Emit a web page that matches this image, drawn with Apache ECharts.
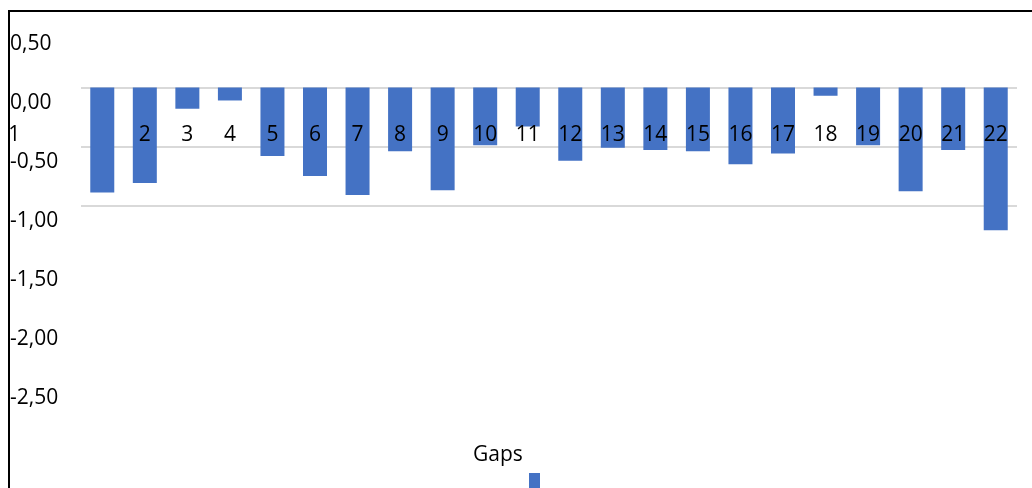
<!DOCTYPE html>
<html>
<head>
<meta charset="utf-8">
<script src="https://cdn.jsdelivr.net/npm/echarts@6/dist/echarts.min.js"></script>
<style>
  html, body { margin: 0; padding: 0; background: #fff; }
  #chart { width: 1032px; height: 488px; }
</style>
</head>
<body>
<div id="chart"></div>
<script>
// Per-period gap values
const categories = ['1','2','3','4','5','6','7','8','9','10','11','12','13','14','15','16','17','18','19','20','21','22'];
const gaps = [-0.89, -0.81, -0.18, -0.11, -0.58, -0.75, -0.91, -0.54, -0.87, -0.49, -0.33,
              -0.62, -0.51, -0.53, -0.54, -0.65, -0.56, -0.07, -0.49, -0.88, -0.53, -1.21];
const seriesName = 'Gaps';
const gridLevels = [0, -0.5, -1.0];

const FONT = 'Open Sans';
const FS = 21;
const chart = echarts.init(document.getElementById('chart'), null, { renderer: 'canvas' });

const fmt = v => v.toFixed(2).replace('.', ',');

chart.setOption({
  animation: false,
  backgroundColor: '#fff',
  textStyle: { fontFamily: FONT },
  graphic: [{
    type: 'rect',
    shape: { x: 9, y: 11, width: 1200, height: 700 },
    style: { fill: 'none', stroke: '#000', lineWidth: 2 },
    silent: true
  }],
  title: {
    text: seriesName,
    left: 473, top: 445, padding: 0,
    textStyle: { fontFamily: FONT, fontSize: FS, fontWeight: 'normal', color: '#000' }
  },
  legend: {
    data: [seriesName],
    left: 529, top: 473, padding: 0,
    itemWidth: 11, itemHeight: 15, itemGap: 0,
    icon: 'rect',
    formatter: () => '',
    textStyle: { fontSize: 1 }
  },
  grid: { left: 81, right: 15, top: 28.5, bottom: 105.5, containLabel: false },
  xAxis: {
    type: 'category',
    data: categories,
    position: 'bottom',
    offset: -295,
    z: 10,
    axisLine: { show: false, onZero: false },
    axisTick: { show: false },
    splitLine: { show: false },
    axisLabel: {
      interval: 0,
      margin: 37,
      color: '#000',
      fontFamily: FONT,
      fontSize: FS,
      formatter: (v, i) => i === 0 ? '{first|' + v + '}' : v,
      rich: { first: { padding: [0, 176, 0, 0], fontFamily: FONT, fontSize: FS, color: '#000' } }
    }
  },
  yAxis: {
    type: 'value',
    min: -2.5, max: 0.5, interval: 0.5,
    axisLine: { show: false },
    axisTick: { show: false },
    splitLine: { show: false },
    axisLabel: {
      align: 'left',
      verticalAlign: 'top',
      lineHeight: 31,
      margin: 71,
      color: '#000',
      fontFamily: FONT,
      fontSize: FS,
      formatter: fmt
    }
  },
  series: [{
    name: seriesName,
    type: 'bar',
    data: gaps,
    barWidth: 24,
    itemStyle: { color: '#4472C4' },
    markLine: {
      z: 1,
      silent: true,
      symbol: ['none', 'none'],
      label: { show: false },
      lineStyle: { color: '#d9d9d9', width: 2, type: 'solid' },
      data: gridLevels.map(v => ({ yAxis: v }))
    }
  }]
});
</script>
</body>
</html>
